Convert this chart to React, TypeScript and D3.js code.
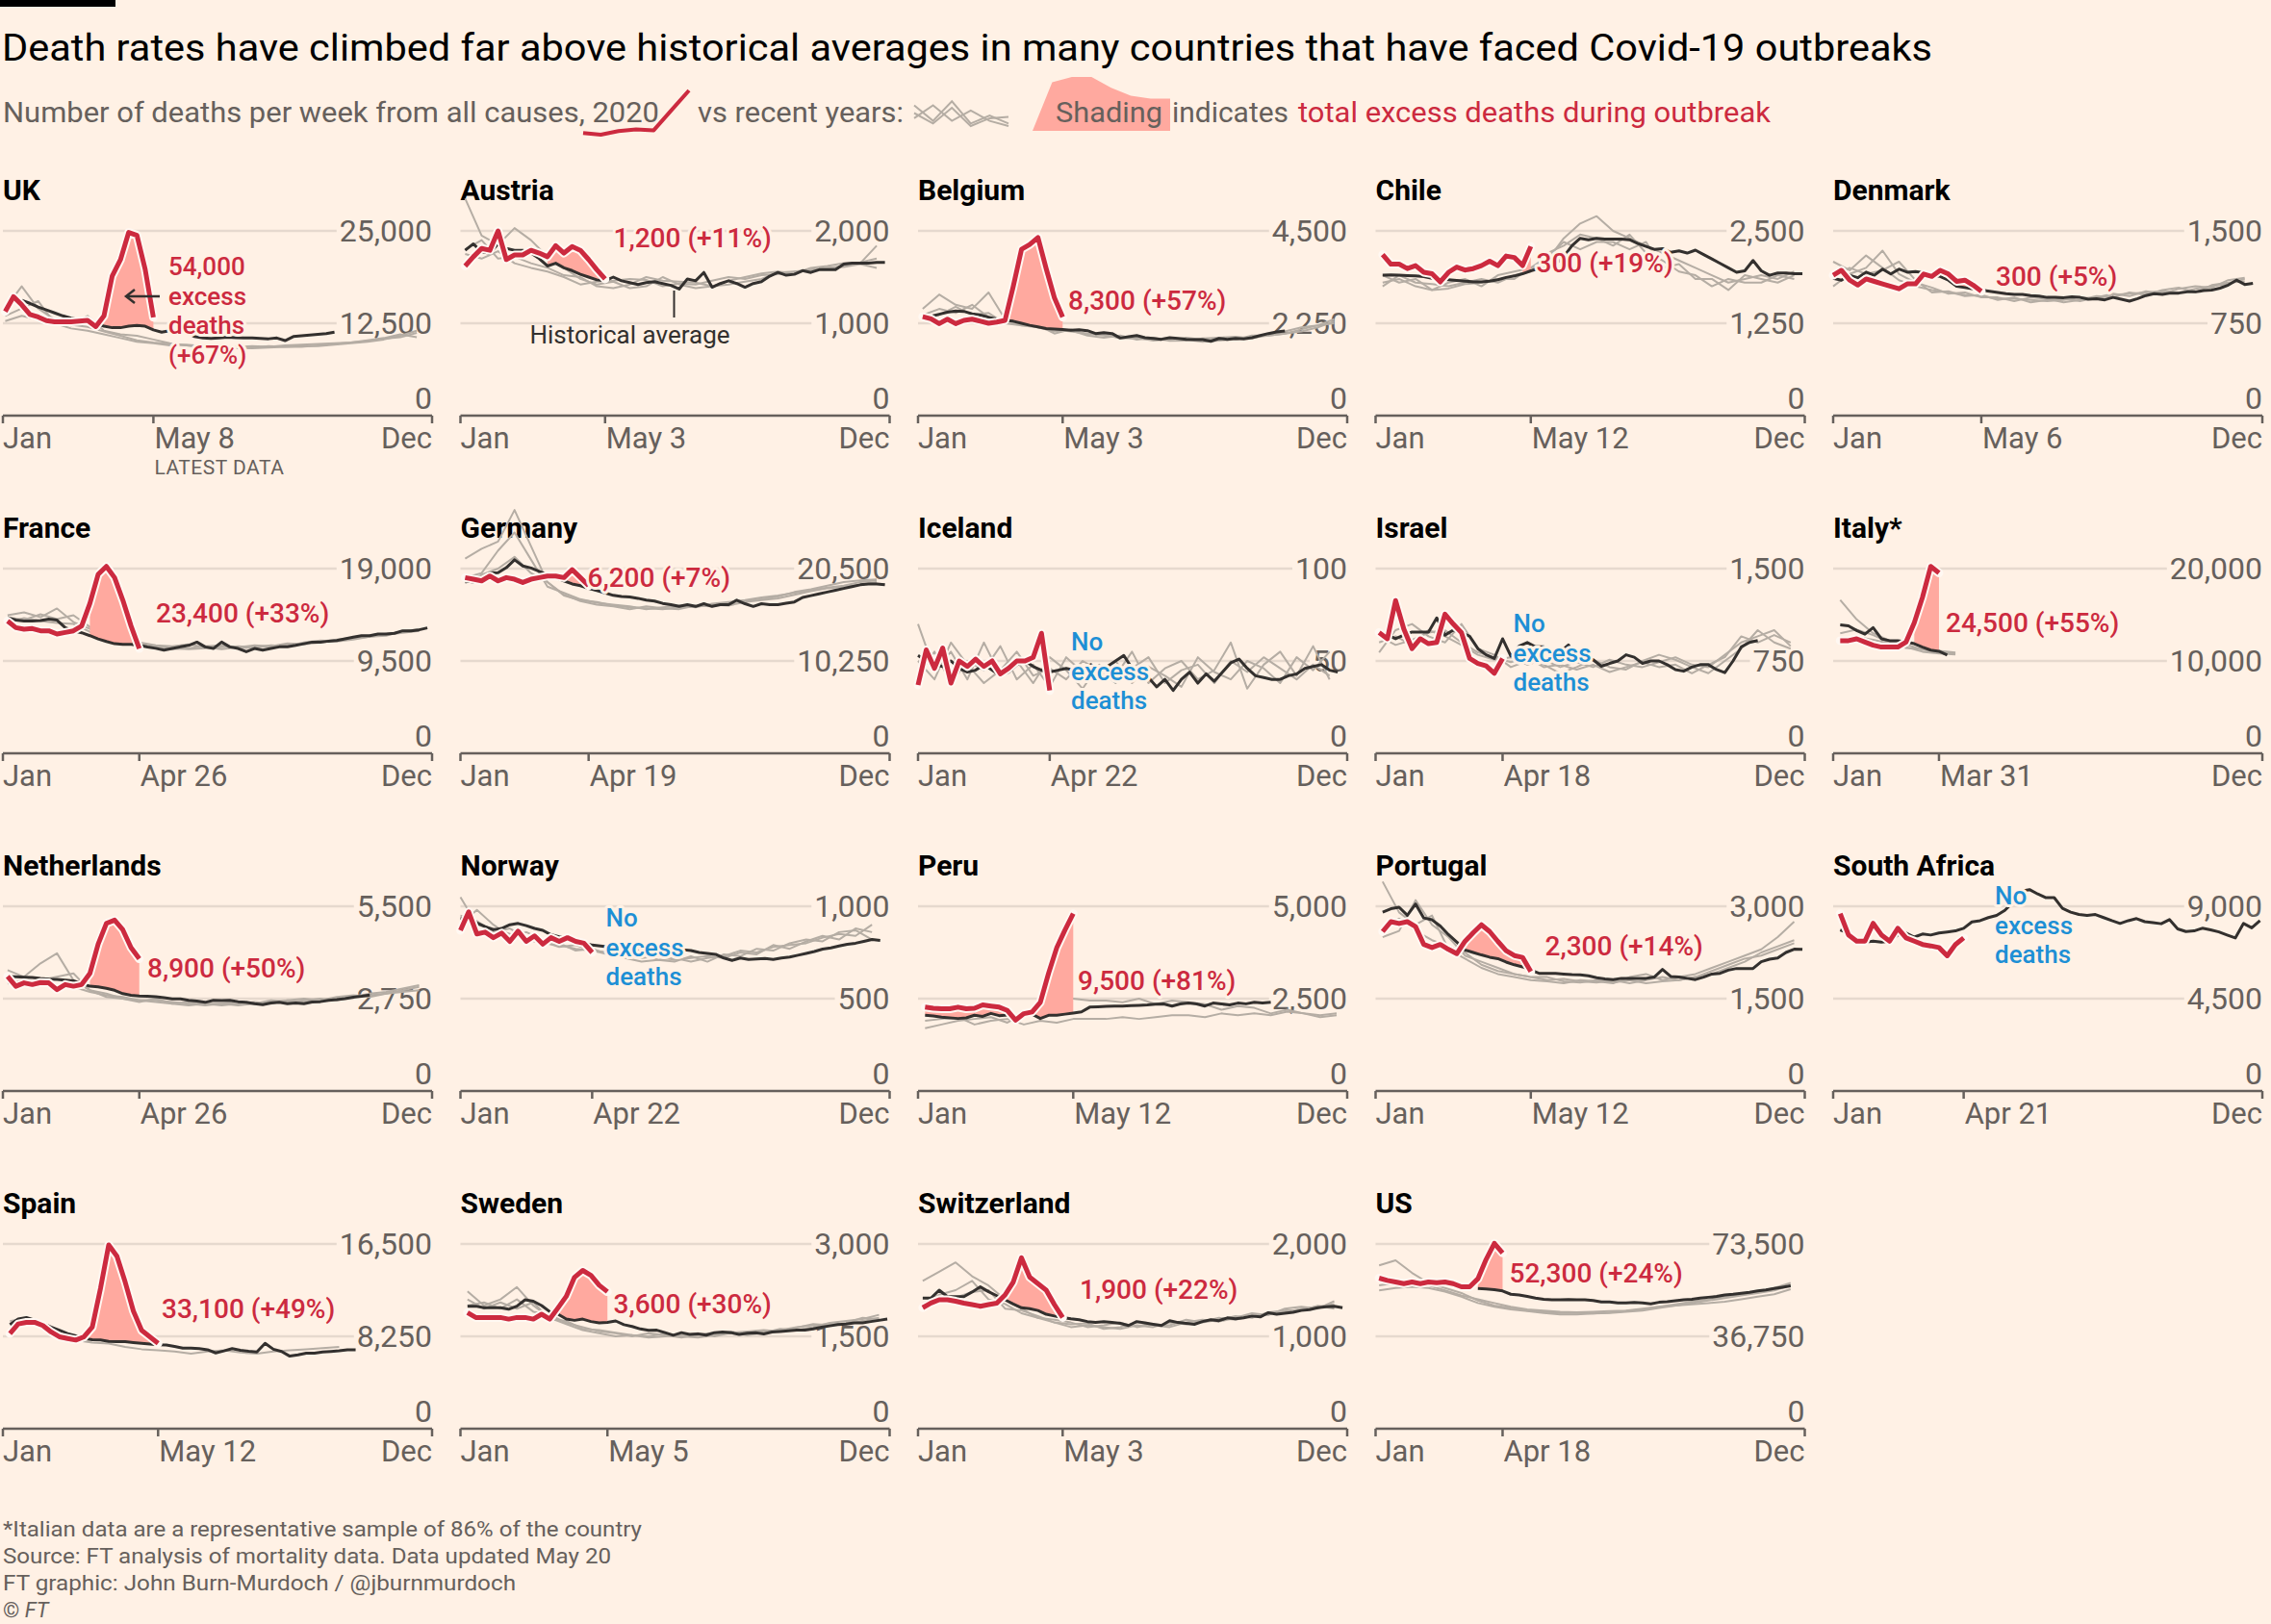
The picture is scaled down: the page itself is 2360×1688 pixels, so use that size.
import { useEffect, useRef } from 'react';
import * as d3 from 'd3';

// ---------- data ----------
const countries = ['UK', 'Austria', 'Belgium', 'Chile', 'Denmark', 'France', 'Germany', 'Iceland', 'Israel', 'Italy*',
  'Netherlands', 'Norway', 'Peru', 'Portugal', 'South Africa', 'Spain', 'Sweden', 'Switzerland', 'US'];
const latestDates = ['2020-05-08', '2020-05-03', '2020-05-03', '2020-05-12', '2020-05-06', '2020-04-26', '2020-04-19',
  '2020-04-22', '2020-04-18', '2020-03-31', '2020-04-26', '2020-04-22', '2020-05-12', '2020-05-12', '2020-04-21',
  '2020-05-12', '2020-05-05', '2020-05-03', '2020-04-18'];
const axisTops = [25000, 2000, 4500, 2500, 1500, 19000, 20500, 100, 1500, 20000, 5500, 1000, 5000, 3000, 9000, 16500, 3000, 2000, 73500];
// week of 2020 from which the outbreak's excess is shaded (null = no excess)
const shadeStarts = [11, 10, 10, 17, 12, 10, 12, null, null, 9, 10, null, 0, 9, null, 9, 10, 10, 12];
const excessNotes = [
  ['54,000', 'excess', 'deaths', '(+67%)'], ['1,200 (+11%)'], ['8,300 (+57%)'], ['300 (+19%)'], ['300 (+5%)'],
  ['23,400 (+33%)'], ['6,200 (+7%)'], ['No', 'excess', 'deaths'], ['No', 'excess', 'deaths'], ['24,500 (+55%)'],
  ['8,900 (+50%)'], ['No', 'excess', 'deaths'], ['9,500 (+81%)'], ['2,300 (+14%)'], ['No', 'excess', 'deaths'],
  ['33,100 (+49%)'], ['3,600 (+30%)'], ['1,900 (+22%)'], ['52,300 (+24%)'],
];

const ukDeaths2020 = [14100, 16100, 15000, 13700, 13350, 12850, 12700, 12700, 12700, 12800, 12900, 12050, 13500, 18900, 21100, 24800, 24400, 19800, 13300];
const ukAverage = [null, null, 15600, 15200, 14700, 14300, 13900, 13500, 13200, 13000, 12800, 12500, 12100, 11900, 11900, 12100, 12200, 12100, 11600, 11300, 11500, 11700, 11300, 10700, 10500, 10450, 10500, 10600, 10550, 10500, 10500, 10450, 10400, 10500, 10150, 10700, 10800, 10900, 11000, 11100, 11300];
const ukRecent = [
  [14500, 17500, 14500, 13000, 12200, 13500, 11500, 11000, 10800, 10300, 9800, 9500, 9300, 9300, 9200, 9100, 9200, 9300, 9400, 9400, 9600, 9800, 10000, 10300, 10800, 11500],
  [13500, 14500, 15500, 12500, 11800, 11500, 11000, 10500, 10000, 9800, 9500, 9600, 9400, 9500, 9300, 9400, 9300, 9500, 9600, 9700, 9800, 9900, 10200, 10500, 11000, 10600],
  [12800, 13500, 13000, 12700, 12300, 12000, 11400, 10800, 10200, 9900, 9700, 9500, 9300, 9200, 9100, 9200, 9400, 9300, 9300, 9500, 9700, 9900, 10100, 10400, 10600, 11200],
];

const austriaDeaths2020 = [1620, 1720, 1810, 1790, 2000, 1690, 1740, 1740, 1790, 1760, 1720, 1840, 1760, 1830, 1790, 1690, 1580, 1480];
const austriaAverage = [1790, 1860, 1770, 1760, 1860, 1810, 1790, 1790, 1760, 1700, 1620, 1650, 1600, 1570, 1530, 1500, 1470, 1460, 1500, 1460, 1440, 1420, 1440, 1450, 1430, 1410, 1370, 1480, 1460, 1550, 1390, 1430, 1460, 1430, 1390, 1430, 1450, 1510, 1550, 1520, 1530, 1570, 1550, 1580, 1580, 1580, 1640, 1650, 1650, 1650, 1660, 1660];
const austriaRecent = [
  [2350, 1950, 1850, 2030, 1900, 1720, 1600, 1480, 1420, 1450, 1380, 1400, 1500, 1420, 1380, 1400, 1420, 1450, 1480, 1550, 1560, 1580, 1600, 1620, 1650, 1840],
  [1750, 1700, 1780, 1650, 1600, 1560, 1500, 1420, 1450, 1460, 1480, 1470, 1400, 1430, 1420, 1460, 1500, 1480, 1520, 1530, 1560, 1570, 1600, 1610, 1640, 1600],
  [1800, 1900, 1700, 1720, 1650, 1600, 1520, 1500, 1400, 1380, 1420, 1500, 1460, 1450, 1440, 1400, 1460, 1500, 1540, 1560, 1540, 1600, 1620, 1650, 1660, 1700],
];

const belgiumDeaths2020 = [2410, 2360, 2240, 2350, 2240, 2320, 2350, 2300, 2250, 2280, 2320, 3150, 4050, 4170, 4340, 3580, 2870, 2400];
const belgiumAverage = [2400, 2420, 2470, 2520, 2550, 2540, 2480, 2450, 2400, 2350, 2320, 2300, 2250, 2200, 2160, 2120, 2110, 2100, 2080, 2090, 2070, 2000, 2020, 2000, 1890, 1920, 1950, 1900, 1880, 1860, 1900, 1880, 1860, 1850, 1850, 1810, 1880, 1860, 1880, 1870, 1900, 1950, 2000, 2040, 2060];
const belgiumRecent = [
  [2600, 2950, 2700, 2600, 3000, 2350, 2200, 2150, 2100, 2050, 2000, 1950, 1900, 1880, 1850, 1900, 1850, 1800, 1830, 1860, 1900, 1950, 2000, 2100, 2200, 2350],
  [2450, 2600, 2500, 2700, 2400, 2300, 2250, 2150, 2050, 2080, 1950, 1900, 1950, 1850, 1900, 1820, 1830, 1880, 1900, 1920, 1880, 1980, 2050, 2150, 2200, 2250],
  [2350, 2450, 2650, 2450, 2500, 2250, 2200, 2200, 2000, 2100, 1980, 2000, 1880, 1900, 1830, 1860, 1900, 1850, 1870, 1850, 1950, 1950, 2000, 2050, 2150, 2300],
];

const chileDeaths2020 = [2180, 2050, 2050, 1990, 2030, 1940, 1920, 1810, 1940, 2010, 1970, 1990, 2030, 2090, 2030, 2160, 2140, 2030, 2290];
const chileAverage = [1900, 1905, 1900, 1895, 1890, 1880, 1860, 1850, 1840, 1830, 1820, 1810, 1810, 1820, 1840, 1870, 1890, 1920, 1960, 1990, 2000, 2050, 2150, 2300, 2400, 2380, 2400, 2390, 2390, 2390, 2380, 2330, 2290, 2250, 2260, 2210, 2230, 2200, 2240, 2180, 2120, 2060, 2000, 1940, 1960, 2100, 1960, 1900, 1930, 1930, 1920, 1920];
const chileRecent = [
  [1800, 1850, 1750, 1700, 1800, 1850, 1750, 1900, 1950, 2000, 2100, 2400, 2600, 2700, 2500, 2400, 2300, 2200, 2100, 2000, 1900, 1800, 1850, 1900, 1850, 1950],
  [1750, 1900, 1800, 1780, 1750, 1800, 1850, 1800, 1900, 1950, 2200, 2300, 2450, 2400, 2300, 2450, 2200, 2100, 1950, 1900, 1750, 1850, 1800, 1800, 1900, 1850],
  [1900, 1800, 1850, 1700, 1720, 1780, 1800, 1850, 1850, 2000, 2150, 2350, 2250, 2350, 2350, 2250, 2350, 2000, 2050, 1850, 1850, 1700, 1900, 1850, 1800, 1900],
];

const denmarkDeaths2020 = [1140, 1180, 1100, 1060, 1110, 1090, 1070, 1050, 1030, 1070, 1070, 1150, 1130, 1180, 1150, 1090, 1100, 1060, 1010];
const denmarkAverage = [1115, 1100, 1140, 1120, 1165, 1140, 1190, 1150, 1190, 1165, 1170, 1160, 1140, 1130, 1100, 1050, 1040, 1030, 1020, 1010, 1000, 990, 985, 985, 975, 970, 960, 960, 958, 965, 960, 945, 950, 940, 960, 945, 930, 950, 975, 990, 985, 995, 995, 1005, 1005, 1015, 1020, 1035, 1060, 1100, 1065, 1075];
const denmarkRecent = [
  [1250, 1180, 1300, 1200, 1100, 1050, 1020, 1000, 980, 970, 950, 950, 940, 930, 940, 960, 950, 980, 990, 1000, 1010, 1000, 1030, 1050, 1070, 1110],
  [1050, 1150, 1200, 1340, 1150, 1080, 1040, 990, 1000, 960, 960, 930, 960, 950, 920, 940, 970, 960, 1000, 980, 1020, 1040, 1000, 1060, 1080, 1090],
  [1120, 1200, 1150, 1180, 1250, 1100, 1000, 1010, 970, 980, 940, 960, 920, 940, 950, 930, 960, 990, 970, 1010, 990, 1030, 1050, 1040, 1100, 1120],
];

const franceDeaths2020 = [13600, 12930, 12770, 12830, 12600, 12600, 12270, 12430, 12600, 13100, 15420, 18400, 19230, 18070, 15750, 13100, 10780];
const franceAverage = [13930, 13700, 13600, 13600, 13650, 13800, 13700, 12930, 12600, 12400, 12100, 11770, 11500, 11270, 11200, 11200, 11100, 10940, 10800, 10610, 10780, 10950, 11100, 11440, 10950, 10780, 11440, 10950, 10780, 10450, 10780, 10610, 10780, 10950, 10950, 11100, 11270, 11440, 11440, 11540, 11600, 11770, 11940, 12100, 12100, 12270, 12270, 12350, 12600, 12600, 12700, 12900];
const franceRecent = [
  [14200, 14500, 14000, 14900, 13500, 12800, 12000, 11600, 11200, 11000, 10800, 10700, 10800, 10900, 11000, 10900, 11000, 11200, 11300, 11500, 11700, 11900, 12100, 12300, 12500, 12800],
  [14000, 13700, 14300, 13800, 14200, 13000, 12200, 11800, 11400, 11100, 11000, 11200, 10900, 10700, 10900, 11100, 11000, 11300, 11200, 11400, 11600, 11800, 12000, 12200, 12400, 12600],
  [13500, 13900, 13600, 13400, 13300, 12500, 11900, 11500, 11300, 11000, 10700, 10800, 11000, 11100, 10800, 10900, 11100, 11000, 11400, 11600, 11500, 11700, 12000, 12100, 12600, 12700],
];

const germanyDeaths2020 = [19500, 19320, 19140, 19680, 19140, 19500, 19320, 18960, 19320, 19500, 19680, 19680, 19500, 20390, 19500, 18600];
const germanyAverage = [19140, 19000, 19500, 20000, 20040, 20600, 21470, 20800, 20570, 20200, 19800, 19500, 19140, 18800, 18600, 18300, 18070, 17800, 17530, 17400, 17350, 17200, 17000, 16900, 16640, 16500, 16300, 16500, 16300, 16600, 16300, 16500, 16500, 17000, 16600, 16300, 16600, 16500, 16500, 16650, 16800, 17300, 17500, 17700, 17900, 18100, 18300, 18500, 18700, 18800, 18800, 18700];
const germanyRecent = [
  [21600, 22700, 23500, 27000, 23000, 19000, 17500, 17000, 16800, 16400, 16200, 16100, 16000, 16200, 16300, 16500, 16400, 16800, 17000, 17200, 17600, 18000, 18300, 18500, 18700, 19000],
  [19500, 20000, 22500, 24500, 21500, 18500, 17800, 17100, 16700, 16500, 16300, 16000, 16200, 16400, 16200, 16600, 16800, 17000, 17300, 17500, 17800, 18100, 18400, 18600, 19000, 19200],
  [18900, 19800, 20500, 21800, 20000, 19000, 17600, 16900, 16500, 16300, 16000, 16300, 16100, 16000, 16400, 16300, 16700, 16900, 17100, 17400, 17900, 18200, 18600, 19000, 19200, 19300],
];

const icelandDeaths2020 = [37, 56, 46, 57, 38, 50, 47, 51, 47, 50, 43, 46, 50, 50, 52, 65, 34];
const icelandAverage = [53, 50, 48, 47, 50, 46, 44, 45, 48, 45, 42, 44, 48, 50, 47, 45, 44, 45, 46, 45, 46, 48, 46, 47, 50, 53, 46, 44, 41, 36, 40, 34, 40, 44, 38, 43, 39, 44, 49, 51, 46, 42, 41, 40, 40, 42, 43, 46, 47, 48, 45, 44];
const icelandRecent = [
  [70, 45, 55, 40, 60, 42, 50, 38, 52, 45, 35, 48, 42, 55, 38, 46, 50, 40, 45, 60, 35, 48, 55, 42, 58, 40],
  [42, 55, 38, 50, 45, 58, 40, 48, 36, 52, 44, 40, 50, 38, 47, 42, 36, 52, 44, 40, 50, 46, 38, 52, 45, 55],
  [50, 40, 60, 48, 38, 45, 55, 42, 46, 40, 50, 45, 38, 46, 52, 38, 45, 48, 38, 50, 44, 52, 46, 40, 48, 42],
];

const israelDeaths2020 = [980, 930, 1240, 1010, 850, 930, 890, 900, 1130, 1050, 980, 770, 730, 710, 650, 770];
const israelAverage = [985, 960, 930, 960, 985, 985, 985, 1100, 960, 1000, 980, 950, 850, 800, 770, 930, 790, 870, 900, 865, 865, 825, 825, 880, 790, 780, 760, 707, 730, 750, 800, 780, 730, 750, 750, 720, 680, 667, 700, 720, 720, 680, 655, 750, 864, 900, 916];
const israelRecent = [
  [820, 1000, 1050, 950, 900, 1050, 850, 800, 700, 750, 720, 650, 700, 760, 700, 680, 750, 800, 760, 700, 650, 750, 850, 1000, 900, 850],
  [900, 950, 880, 1000, 950, 880, 800, 760, 780, 720, 760, 700, 740, 700, 760, 720, 700, 740, 780, 720, 700, 800, 900, 950, 1000, 870],
  [950, 880, 920, 980, 1000, 900, 820, 780, 740, 780, 700, 720, 680, 720, 660, 700, 740, 700, 720, 650, 720, 780, 950, 900, 960, 900],
];

const italyDeaths2020 = [12200, 12200, 12400, 12050, 11700, 11500, 11500, 11500, 12050, 14130, 16900, 20240, 19540];
const italyAverage = [13900, 13800, 13300, 12900, 13600, 12400, 12200, 12200, 12050, 11870, 11500, 11170, 11050, 10650];
const italyRecent = [
  [16600, 14500, 13000, 12200, 11500, 11000, 10800, 10700],
  [13000, 13400, 12800, 12000, 11800, 11200, 11100, 10900],
  [12200, 12600, 12300, 11900, 11400, 11300, 10900, 10800],
];

const netherlandsDeaths2020 = [3410, 3120, 3220, 3170, 3230, 3220, 3020, 3170, 3120, 3170, 3500, 4370, 4990, 5090, 4800, 4270, 3940];
const netherlandsAverage = [3410, 3400, 3390, 3380, 3350, 3330, 3320, 3300, 3280, 3200, 3120, 3100, 3060, 3000, 2900, 2850, 2830, 2820, 2810, 2780, 2740, 2740, 2700, 2680, 2640, 2700, 2690, 2700, 2660, 2640, 2600, 2570, 2620, 2640, 2600, 2620, 2600, 2650, 2660, 2700, 2720, 2750, 2790, 2820, 2860];
const netherlandsRecent = [
  [3600, 3400, 3800, 4100, 3300, 3000, 2800, 2750, 2700, 2650, 2600, 2550, 2600, 2600, 2550, 2600, 2650, 2700, 2650, 2700, 2750, 2800, 2850, 2900, 3000, 3100],
  [3200, 3300, 3250, 3150, 3100, 2950, 2850, 2800, 2700, 2700, 2650, 2600, 2550, 2600, 2650, 2600, 2700, 2650, 2700, 2750, 2700, 2800, 2900, 2950, 3050, 3150],
  [3300, 3200, 3300, 3400, 3500, 3000, 2900, 2750, 2650, 2750, 2600, 2650, 2600, 2550, 2600, 2650, 2600, 2700, 2750, 2700, 2800, 2850, 2800, 2900, 2950, 3000],
];

const norwayDeaths2020 = [870, 970, 850, 860, 830, 855, 810, 865, 810, 840, 795, 830, 810, 830, 810, 800, 750];
const norwayAverage = [934, 930, 910, 890, 873, 880, 900, 907, 895, 880, 870, 846, 835, 829, 815, 803, 790, 785, 780, 777, 770, 759, 762, 759, 762, 759, 770, 765, 760, 750, 745, 740, 720, 707, 720, 712, 715, 718, 712, 720, 725, 735, 745, 755, 768, 775, 785, 794, 800, 810, 820, 815];
const norwayRecent = [
  [1050, 900, 880, 850, 820, 800, 790, 770, 760, 740, 720, 700, 710, 720, 700, 720, 730, 760, 750, 780, 790, 800, 830, 850, 840, 900],
  [950, 920, 860, 880, 830, 810, 780, 790, 760, 750, 730, 740, 710, 700, 730, 700, 740, 730, 770, 760, 800, 820, 810, 860, 870, 820],
  [900, 980, 900, 840, 860, 820, 800, 760, 770, 740, 760, 720, 730, 710, 720, 730, 720, 750, 740, 790, 770, 810, 840, 820, 880, 860],
];

const peruDeaths2020 = [2270, 2240, 2225, 2225, 2270, 2225, 2240, 2330, 2300, 2270, 2180, 1920, 2094, 2140, 2400, 3185, 3880, 4360, 4800];
const peruAverage = [2050, 2030, 2000, 1980, 1963, 1980, 2050, 2020, 2100, 2040, 2060, 2000, 2050, 2080, 1963, 2050, 2050, 2080, 2110, 2140, 2270, 2280, 2290, 2300, 2300, 2310, 2320, 2330, 2350, 2356, 2300, 2356, 2380, 2356, 2300, 2380, 2356, 2330, 2380, 2360, 2400, 2380, 2400];
const peruRecent = [
  [1700, 1800, 1900, 1950, 2000, 1850, 2100, 2300, 2550, 2500, 2450, 2450, 2400, 2500, 2350, 2450, 2400, 2350, 2200, 2300, 2250, 2100, 2200, 2100, 2000, 2050],
  [1900, 1950, 2000, 1800, 1900, 1950, 1800, 1900, 1850, 1950, 1950, 1950, 2000, 1950, 2000, 2050, 2050, 2000, 2100, 2050, 2100, 2050, 2150, 2100, 2050, 2100],
];

const portugalDeaths2020 = [2590, 2750, 2720, 2750, 2670, 2380, 2330, 2380, 2300, 2230, 2430, 2570, 2700, 2590, 2430, 2280, 2200, 2170, 1940];
const portugalAverage = [2906, 2960, 2985, 2854, 3037, 2810, 2780, 2680, 2540, 2420, 2290, 2251, 2210, 2173, 2150, 2094, 2050, 2016, 1963, 1911, 1911, 1911, 1900, 1890, 1885, 1870, 1840, 1820, 1810, 1830, 1830, 1830, 1830, 1850, 1974, 1860, 1850, 1830, 1810, 1850, 1900, 1911, 1963, 1990, 1990, 1990, 2100, 2140, 2160, 2250, 2304, 2300];
const portugalRecent = [
  [3400, 2900, 2700, 2850, 2300, 2150, 2000, 1900, 1850, 1800, 1780, 1750, 1800, 1780, 1750, 1850, 1900, 1800, 1850, 1900, 2000, 2100, 2200, 2300, 2500, 2750],
  [2650, 2800, 2600, 2450, 2350, 2250, 2050, 1950, 1900, 1850, 1800, 1820, 1780, 1760, 1800, 1750, 1800, 1850, 1800, 1850, 1900, 2000, 2100, 2250, 2350, 2450],
  [2500, 2600, 3100, 2700, 2500, 2200, 2100, 2000, 1900, 1850, 1850, 1780, 1760, 1800, 1760, 1800, 1750, 1780, 1800, 1850, 1950, 2050, 2150, 2200, 2300, 2400],
];

const southAfricaDeaths2020 = [8640, 7610, 7300, 7300, 8170, 7610, 7300, 7930, 7460, 7300, 7140, 7070, 6990, 6590, 7140, 7460];
const southAfricaAverage = [7850, 7700, 7400, 7250, 7300, 7250, 7300, 7600, 7700, 7500, 7650, 7600, 7700, 7750, 7800, 7930, 8240, 8300, 8450, 8556, 8800, 9200, 9734, 9813, 9600, 9420, 9420, 8900, 8714, 8600, 8556, 8600, 8450, 8300, 8164, 8300, 8400, 8250, 8200, 8150, 8350, 7900, 7772, 7800, 7930, 7850, 7750, 7600, 7458, 8164, 7950, 8300];
const southAfricaRecent: number[][] = [];

const spainDeaths2020 = [8500, 9360, 9500, 9500, 9220, 8640, 8210, 8060, 7920, 8210, 9070, 12530, 16420, 15400, 13100, 10510, 8780, 8210, 7630];
const spainAverage = [9300, 9800, 9936, 9700, 9400, 9072, 8800, 8496, 8300, 8064, 7950, 7920, 7800, 7776, 7780, 7700, 7632, 7560, 7488, 7480, 7350, 7200, 7200, 7150, 7056, 6768, 6950, 7150, 7000, 6912, 6850, 7632, 7100, 6900, 6480, 6600, 6750, 6750, 6850, 6900, 6960, 7056, 7056];
const spainRecent = [
  [9600, 9900, 8900, 8300, 7900, 7700, 7600, 7300, 7100, 7000, 6900, 6700, 6900, 7000, 6800, 6700, 6900, 7000, 7100, 7200, 7300],
];

const swedenDeaths2020 = [1885, 1806, 1806, 1806, 1806, 1780, 1806, 1806, 1780, 1859, 1780, 1963, 2150, 2460, 2570, 2490, 2330, 2225];
const swedenAverage = [1990, 1990, 1965, 1965, 1965, 1940, 1990, 2094, 2070, 2000, 1900, 1859, 1780, 1760, 1780, 1740, 1720, 1728, 1750, 1690, 1660, 1620, 1597, 1600, 1560, 1518, 1560, 1530, 1540, 1520, 1560, 1570, 1560, 1530, 1550, 1560, 1540, 1570, 1580, 1590, 1600, 1600, 1620, 1650, 1670, 1690, 1700, 1720, 1720, 1740, 1760, 1780];
const swedenRecent = [
  [2230, 2000, 2100, 2300, 2000, 1800, 1700, 1600, 1550, 1500, 1520, 1480, 1500, 1520, 1550, 1500, 1560, 1540, 1580, 1600, 1650, 1680, 1700, 1700, 1750, 1800],
  [2000, 2050, 1950, 2100, 1900, 1850, 1720, 1650, 1580, 1550, 1500, 1550, 1520, 1480, 1530, 1560, 1580, 1520, 1560, 1620, 1600, 1650, 1720, 1750, 1780, 1850],
  [2100, 1950, 2050, 1950, 2050, 1780, 1750, 1620, 1600, 1560, 1520, 1500, 1550, 1500, 1480, 1520, 1560, 1580, 1600, 1580, 1640, 1700, 1680, 1720, 1800, 1780],
];

const switzerlandDeaths2020 = [1310, 1360, 1396, 1396, 1380, 1360, 1344, 1326, 1344, 1360, 1448, 1588, 1850, 1640, 1570, 1500, 1344, 1204];
const switzerlandAverage = [1413, 1413, 1500, 1430, 1430, 1430, 1480, 1535, 1483, 1440, 1396, 1350, 1309, 1300, 1280, 1239, 1220, 1204, 1190, 1180, 1160, 1152, 1160, 1150, 1140, 1117, 1160, 1145, 1130, 1117, 1170, 1150, 1140, 1130, 1160, 1180, 1170, 1200, 1190, 1200, 1220, 1210, 1256, 1240, 1250, 1260, 1280, 1290, 1309, 1320, 1325, 1310];
const switzerlandRecent = [
  [1600, 1700, 1800, 1650, 1550, 1400, 1300, 1200, 1150, 1100, 1120, 1100, 1080, 1120, 1100, 1150, 1130, 1160, 1200, 1180, 1220, 1250, 1260, 1300, 1320, 1350],
  [1350, 1450, 1500, 1600, 1400, 1350, 1250, 1200, 1180, 1150, 1100, 1120, 1150, 1100, 1130, 1120, 1180, 1150, 1180, 1220, 1200, 1260, 1280, 1280, 1330, 1300],
  [1300, 1380, 1420, 1480, 1500, 1300, 1280, 1220, 1150, 1130, 1140, 1080, 1100, 1150, 1120, 1100, 1150, 1180, 1160, 1200, 1250, 1230, 1300, 1320, 1300, 1380],
];

const usDeaths2020 = [59900, 59000, 58400, 57700, 58400, 57700, 58400, 58100, 58400, 57700, 56450, 56450, 59660, 67360, 73770, 69920];
const usAverage = [null, null, null, null, null, null, null, null, null, null, null, null, 55800, 55600, 55300, 54800, 53500, 53240, 52600, 51960, 51500, 51320, 51320, 51400, 51320, 51320, 51000, 50420, 50420, 50040, 50040, 50200, 50040, 49650, 50300, 50500, 50900, 51320, 51500, 52000, 52300, 52600, 53200, 53500, 53900, 54300, 54800, 55200, 55800, 56300, 56840];
const usRecent = [
  [65000, 67000, 62000, 58000, 56000, 54000, 51000, 49000, 48000, 47000, 46500, 46000, 46000, 45800, 46000, 46500, 47000, 48000, 49000, 50000, 51000, 52000, 53000, 54000, 55000, 57000],
  [57000, 58000, 58500, 57000, 55000, 53000, 51500, 50000, 48500, 47500, 47000, 46500, 46300, 46500, 46800, 47000, 47800, 48500, 49500, 50500, 51500, 52500, 53500, 54500, 56000, 58000],
  [55000, 56000, 56500, 56000, 54500, 52500, 50000, 48500, 47500, 46800, 46000, 45500, 45500, 45800, 46200, 46800, 47500, 48500, 49000, 49500, 50000, 50500, 51500, 52500, 53500, 55500],
];

const deaths2020 = [ukDeaths2020, austriaDeaths2020, belgiumDeaths2020, chileDeaths2020, denmarkDeaths2020, franceDeaths2020,
  germanyDeaths2020, icelandDeaths2020, israelDeaths2020, italyDeaths2020, netherlandsDeaths2020, norwayDeaths2020,
  peruDeaths2020, portugalDeaths2020, southAfricaDeaths2020, spainDeaths2020, swedenDeaths2020, switzerlandDeaths2020, usDeaths2020];
const averages = [ukAverage, austriaAverage, belgiumAverage, chileAverage, denmarkAverage, franceAverage, germanyAverage,
  icelandAverage, israelAverage, italyAverage, netherlandsAverage, norwayAverage, peruAverage, portugalAverage,
  southAfricaAverage, spainAverage, swedenAverage, switzerlandAverage, usAverage];
const recentYears = [ukRecent, austriaRecent, belgiumRecent, chileRecent, denmarkRecent, franceRecent, germanyRecent,
  icelandRecent, israelRecent, italyRecent, netherlandsRecent, norwayRecent, peruRecent, portugalRecent,
  southAfricaRecent, spainRecent, swedenRecent, switzerlandRecent, usRecent];

// legend samples (shape of the little key glyphs)
const legendRedSample = [0.04, 0, 0.08, 0.12, 0.1, 0.55, 1];
const legendGreySamples = [
  [0.8, 0.2, 0.95, 0.1, 0.4, 0.1],
  [0.5, 0.1, 0.7, 0.0, 0.3, 0.35],
  [0.3, 0.8, 0.2, 0.6, 0.2, 0.0],
];
const legendShadeSample = [0, 0.9, 1, 1, 0.8, 0.65, 0.6, 0.6];

// annotation placement (px, relative to each panel's top gridline)
const noteX = [172, 159, 156, 167, 169, 159, 132, 159, 143, 117, 150, 151, 166, 176, 168, 165, 159, 168, 139];
const noteY = [46, 17, 82, 43, 57, 56, 19, 85, 66, 66, 74, 21, 87, 51, -2, 77, 72, 57, 40];

// ---------- style ----------
const W = 2360;
const H = 1688;
const BG = '#fff1e5';
const INK = '#66605c';
const DARK = '#33302e';
const RED = '#cc2a3f';
const PINK = '#ffa99f';
const BLUE = '#1d8fd5';
const GREY = '#b5ada4';
const GRID = '#e6d9ce';
const FONT = 'Roboto, "Noto Sans", sans-serif';

const PANEL_LEFT = 3;
const COL_STEP = 475.5;
const GRID_TOP = 240;
const ROW_STEP = 351;
const PW = 446;
const PH = 192;

export default function App() {
  const svgRef = useRef<SVGSVGElement>(null);

  useEffect(() => {
    if (!svgRef.current) return;
    const svg = d3.select(svgRef.current);
    svg.selectAll('*').remove();
    svg.attr('font-family', FONT);

    svg.append('rect').attr('width', W).attr('height', H).attr('fill', BG);
    svg.append('rect').attr('width', 120).attr('height', 7).attr('fill', '#000');

    // Title
    svg.append('text')
      .attr('x', 2).attr('y', 63)
      .attr('font-size', 38).attr('fill', '#000')
      .attr('textLength', 2006).attr('lengthAdjust', 'spacingAndGlyphs')
      .text('Death rates have climbed far above historical averages in many countries that have faced Covid-19 outbreaks');

    // Subtitle with key glyphs
    const subY = 127;
    const sub = (t: string, x: number, len: number, fill = INK) =>
      svg.append('text').attr('x', x).attr('y', subY).attr('font-size', 29).attr('fill', fill)
        .attr('textLength', len).attr('lengthAdjust', 'spacingAndGlyphs').text(t);

    sub('Number of deaths per week from all causes, 2020', 3, 682);
    const lrx = d3.scaleLinear().domain([0, legendRedSample.length - 1]).range([606, 716]);
    const lry = d3.scaleLinear().domain([0, 1]).range([140, 94]);
    svg.append('path')
      .attr('d', d3.line<number>().x((_, k) => lrx(k)).y(d => lry(d))(legendRedSample))
      .attr('fill', 'none').attr('stroke', RED).attr('stroke-width', 4).attr('stroke-linejoin', 'round');
    sub('vs recent years:', 725, 214);
    const lgx = d3.scaleLinear().domain([0, 5]).range([950, 1048]);
    const lgy = d3.scaleLinear().domain([0, 1]).range([131, 104]);
    legendGreySamples.forEach(s => {
      svg.append('path')
        .attr('d', d3.line<number>().x((_, k) => lgx(k)).y(d => lgy(d))(s))
        .attr('fill', 'none').attr('stroke', GREY).attr('stroke-width', 2);
    });
    const lsx = d3.scaleLinear().domain([0, legendShadeSample.length - 1]).range([1073, 1216]);
    const lsy = d3.scaleLinear().domain([0, 1]).range([136, 80]);
    svg.append('path')
      .attr('d', d3.area<number>().x((_, k) => lsx(k)).y0(lsy(0)).y1(d => lsy(d))(legendShadeSample))
      .attr('fill', PINK);
    sub('Shading', 1097, 111);
    sub('indicates', 1218, 121);
    sub('total excess deaths during outbreak', 1349, 491, RED);

    const parse = d3.timeParse('%Y-%m-%d');
    const yearStart = parse('2020-01-01') as Date;
    const yearEnd = parse('2020-12-31') as Date;
    const fmtDate = d3.timeFormat('%b %-d');
    const fmtTick = d3.format(',');

    countries.forEach((name, i) => {
      const col = i % 5;
      const row = Math.floor(i / 5);
      const g = svg.append('g')
        .attr('transform', `translate(${PANEL_LEFT + col * COL_STEP},${GRID_TOP + row * ROW_STEP})`);

      const top = axisTops[i];
      const deaths = deaths2020[i];
      const avg = averages[i];
      const latest = parse(latestDates[i]) as Date;
      const first = d3.timeDay.offset(latest, -7 * (deaths.length - 1));
      const week = (k: number) => d3.timeDay.offset(first, 7 * k);
      const fortnight = (k: number) => d3.timeDay.offset(first, 14 * k);

      const x = d3.scaleTime().domain([yearStart, yearEnd]).range([0, PW]);
      const y = d3.scaleLinear().domain([0, top]).range([PH, 0]);

      g.append('text').attr('x', 0).attr('y', -32)
        .attr('font-size', 30).attr('font-weight', 700).attr('fill', '#000').text(name);

      // gridlines + value labels
      [top, top / 2].forEach(v => {
        const lbl = g.append('text').attr('x', PW).attr('y', y(v) + 11)
          .attr('text-anchor', 'end').attr('font-size', 32).attr('fill', INK).text(fmtTick(v));
        const lw = (lbl.node() as SVGTextElement).getComputedTextLength();
        g.insert('line', 'text')
          .attr('x1', 0).attr('x2', PW - lw - 3).attr('y1', y(v)).attr('y2', y(v))
          .attr('stroke', GRID).attr('stroke-width', 2.5);
      });
      g.append('text').attr('x', PW).attr('y', PH - 7)
        .attr('text-anchor', 'end').attr('font-size', 32).attr('fill', INK).text('0');

      // recent years
      recentYears[i].forEach(s => {
        g.append('path')
          .attr('d', d3.line<number>().x((_, k) => x(fortnight(k))).y(d => y(d))(s))
          .attr('fill', 'none').attr('stroke', GREY).attr('stroke-width', 2).attr('stroke-linejoin', 'round');
      });

      // excess shading
      const start = shadeStarts[i];
      if (start !== null) {
        const idx = d3.range(start, deaths.length).filter(k => avg[k] != null);
        g.append('path')
          .attr('d', d3.area<number>()
            .x(k => x(week(k)))
            .y0(k => y(avg[k] as number))
            .y1(k => y(Math.max(deaths[k], avg[k] as number)))(idx))
          .attr('fill', PINK);
      }

      // historical average
      g.append('path')
        .attr('d', d3.line<number | null>()
          .defined(d => d != null)
          .x((_, k) => x(week(k))).y(d => y(d as number))(avg))
        .attr('fill', 'none').attr('stroke', DARK).attr('stroke-width', 3).attr('stroke-linejoin', 'round');

      // 2020
      const redLine = d3.line<number>().x((_, k) => x(week(k))).y(d => y(d))(deaths);
      g.append('path').attr('d', redLine)
        .attr('fill', 'none').attr('stroke', '#fff8f2').attr('stroke-width', 9)
        .attr('stroke-linejoin', 'round').attr('stroke-linecap', 'round');
      g.append('path').attr('d', redLine)
        .attr('fill', 'none').attr('stroke', RED).attr('stroke-width', 5)
        .attr('stroke-linejoin', 'round');

      // annotation
      const lines = excessNotes[i];
      const multi = lines.length > 1;
      const note = g.append('text')
        .attr('x', noteX[i]).attr('y', noteY[i])
        .attr('font-size', multi ? 26 : 28).attr('font-weight', 500)
        .attr('fill', lines[0] === 'No' ? BLUE : RED)
        .attr('stroke', BG).attr('stroke-width', 6).attr('stroke-linejoin', 'round')
        .attr('paint-order', 'stroke');
      lines.forEach((t, j) => note.append('tspan').attr('x', noteX[i]).attr('dy', j ? 30.5 : 0).text(t));

      if (i === 0) {
        g.append('line').attr('x1', 163).attr('x2', 129).attr('y1', 68).attr('y2', 68)
          .attr('stroke', DARK).attr('stroke-width', 2.5);
        g.append('path').attr('d', 'M137,61 L128,68 L137,75')
          .attr('fill', 'none').attr('stroke', DARK).attr('stroke-width', 2.5);
      }
      if (i === 1) {
        g.append('line').attr('x1', 222).attr('x2', 222).attr('y1', 62).attr('y2', 90)
          .attr('stroke', DARK).attr('stroke-width', 2);
        g.append('text').attr('x', 72).attr('y', 117).attr('font-size', 26).attr('fill', DARK)
          .text('Historical average');
      }

      // x axis
      const lx = x(latest);
      g.append('line').attr('x1', 0).attr('x2', PW).attr('y1', PH).attr('y2', PH)
        .attr('stroke', INK).attr('stroke-width', 2.5);
      [0, lx, PW].forEach(t => {
        g.append('line').attr('x1', t).attr('x2', t).attr('y1', PH).attr('y2', PH + 8)
          .attr('stroke', INK).attr('stroke-width', 2.5);
      });
      g.append('text').attr('x', 0).attr('y', PH + 34).attr('font-size', 31).attr('fill', INK).text('Jan');
      g.append('text').attr('x', lx + 1).attr('y', PH + 34).attr('font-size', 31).attr('fill', INK).text(fmtDate(latest));
      g.append('text').attr('x', PW).attr('y', PH + 34).attr('text-anchor', 'end').attr('font-size', 31).attr('fill', INK).text('Dec');
      if (i === 0) {
        g.append('text').attr('x', lx + 1).attr('y', PH + 61).attr('font-size', 21).attr('fill', INK)
          .attr('letter-spacing', 0.5).text('LATEST DATA');
      }
    });

    // footer
    const foot = [
      ['*Italian data are a representative sample of 86% of the country', 664],
      ['Source: FT analysis of mortality data. Data updated May 20', 632],
      ['FT graphic: John Burn-Murdoch / @jburnmurdoch', 533],
    ] as const;
    foot.forEach(([t, len], j) => {
      svg.append('text').attr('x', 3).attr('y', 1597 + 28 * j).attr('font-size', 22).attr('fill', INK)
        .attr('textLength', len).attr('lengthAdjust', 'spacingAndGlyphs').text(t);
    });
    const copy = svg.append('text').attr('x', 3).attr('y', 1681).attr('font-size', 22).attr('fill', INK);
    copy.append('tspan').text('© ');
    copy.append('tspan').attr('font-style', 'italic').text('FT');
  }, []);

  return (
    <svg
      ref={svgRef}
      width={W}
      height={H}
      style={{ position: 'absolute', left: 0, top: 0, display: 'block' }}
    />
  );
}
